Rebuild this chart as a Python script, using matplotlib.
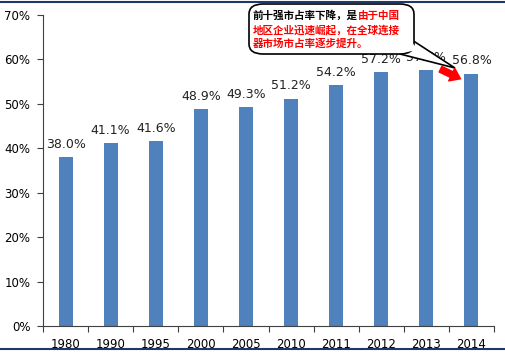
import numpy as np
import matplotlib.pyplot as plt
from matplotlib.patches import FancyBboxPatch, Polygon, FancyArrowPatch
from matplotlib.lines import Line2D

years = ["1980", "1990", "1995", "2000", "2005", "2010", "2011", "2012", "2013", "2014"]
share = [38.0, 41.1, 41.6, 48.9, 49.3, 51.2, 54.2, 57.2, 57.6, 56.8]
yticks = [0, 10, 20, 30, 40, 50, 60, 70]

plt.rcParams['font.family'] = ['DejaVu Sans']

W, H = 506, 361
fig = plt.figure(figsize=(W / 100, H / 100), dpi=100)
ax = fig.add_axes([43 / W, (H - 326) / H, (494 - 43) / W, (326 - 15) / H])

x = np.arange(len(years))
ax.bar(x, share, width=0.31, color='#4F81BD', zorder=2)
for xi, v in zip(x, share):
    ax.text(xi, v + 1.4, f"{v:.1f}%", ha='center', va='bottom', fontsize=9, color='#222222')

ax.set_xlim(-0.5, len(years) - 0.5)
ax.set_ylim(0, 70)
ax.set_yticks(yticks)
ax.set_yticklabels([f"{t}%" for t in yticks], fontsize=8.5)
ax.set_xticks(np.arange(-0.5, len(years), 1.0))
ax.set_xticklabels([])
ax.set_xticks(x, minor=True)
ax.set_xticklabels(years, minor=True, fontsize=8.5)
ax.tick_params(axis='x', which='minor', length=0, pad=9)
ax.tick_params(axis='x', which='major', length=4, color='#404040')
ax.tick_params(axis='y', length=4, color='#404040', pad=5)
for s in ['top', 'right']:
    ax.spines[s].set_visible(False)
for s in ['left', 'bottom']:
    ax.spines[s].set_color('#404040')

# border lines
fig.add_artist(Line2D([0, 1], [1 - 1.5 / H, 1 - 1.5 / H], color='#1F3864', lw=1.5))
fig.add_artist(Line2D([0, 1], [1 - 349 / H, 1 - 349 / H], color='#1F3864', lw=1.5))

def fx(px):
    return px / W

def fy(py):
    return 1 - py / H

# callout
tail = Polygon([(fx(400), fy(54)), (fx(412), fy(40)), (fx(455), fy(68))],
               closed=True, facecolor='white', edgecolor='black', lw=1.2,
               transform=fig.transFigure, zorder=5)
fig.add_artist(tail)
box = FancyBboxPatch((fx(249), fy(54)), fx(414) - fx(249), fy(4) - fy(54),
                     boxstyle="round,pad=0,rounding_size=0.028",
                     facecolor='white', edgecolor='black', lw=1.2,
                     transform=fig.transFigure, zorder=6)
fig.add_artist(box)
cover = Polygon([(fx(401), fy(53)), (fx(411), fy(41)), (fx(418), fy(50))],
                closed=True, facecolor='white', edgecolor='none',
                transform=fig.transFigure, zorder=7)
fig.add_artist(cover)

cjk = ['Noto Sans CJK SC', 'DejaVu Sans']
fs = 7.6
t1 = fig.text(fx(253), fy(16), "前十强市占率下降，是", fontsize=fs, fontweight='bold',
              family=cjk, color='black', va='center', ha='left', zorder=8)
fig.canvas.draw()
bb = t1.get_window_extent()
fig.text(bb.x1 / fig.dpi / fig.get_figwidth(), fy(16), "由于中国", fontsize=fs,
         fontweight='bold', family=cjk, color='#FF0000', va='center', ha='left', zorder=8)
fig.text(fx(253), fy(30), "地区企业迅速崛起，在全球连接", fontsize=fs, fontweight='bold',
         family=cjk, color='#FF0000', va='center', ha='left', zorder=8)
fig.text(fx(253), fy(44), "器市场市占率逐步提升。", fontsize=fs, fontweight='bold',
         family=cjk, color='#FF0000', va='center', ha='left', zorder=8)

arrow = FancyArrowPatch((fx(438), fy(68)), (fx(463), fy(80)),
                        arrowstyle='simple,head_width=1.0,head_length=0.7,tail_width=0.45',
                        mutation_scale=10, color='#FF0000', transform=fig.transFigure, zorder=9)
fig.add_artist(arrow)

fig.savefig("out.png", dpi=100)
